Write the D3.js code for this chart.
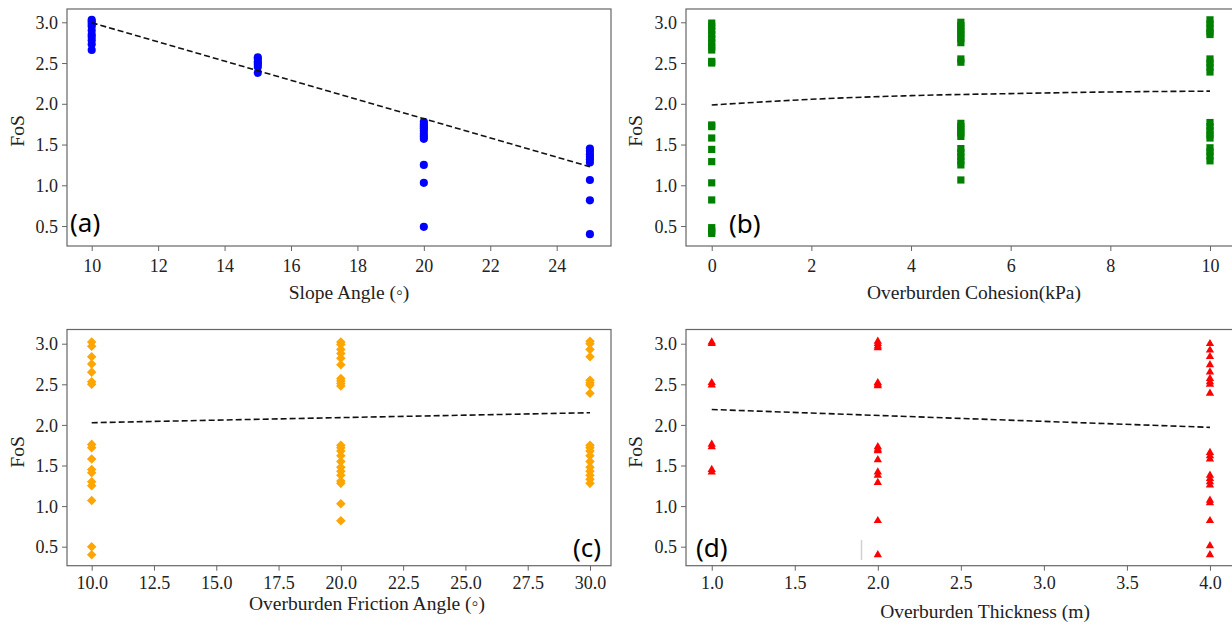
<!DOCTYPE html>
<html>
<head>
<meta charset="utf-8">
<script src="https://cdn.jsdelivr.net/npm/d3@7.9.0/dist/d3.min.js"></script>
<style>
  body { margin: 0; background: #fff; }
  svg { display: block; }
  .tick text { font-family: "Liberation Serif", serif; font-size: 18px; fill: #222; }
  .tick line { stroke: #666; }
  .axis-label { font-family: "Liberation Serif", serif; font-size: 19.5px; fill: #222; }
  .panel-tag { font-family: "Noto Sans", sans-serif; font-size: 26px; fill: #000; }
</style>
</head>
<body>
<svg id="chart" width="1232" height="626"></svg>
<script>
// (a) slope angle
const slopeAngle = [10, 15, 20, 25];
const fosBySlope = [
  [3.03, 3.01, 2.98, 2.95, 2.9, 2.85, 2.82, 2.78, 2.73, 2.66],
  [2.57, 2.55, 2.52, 2.5, 2.48, 2.45, 2.38],
  [1.78, 1.75, 1.72, 1.7, 1.67, 1.63, 1.6, 1.57, 1.25, 1.03, 0.49],
  [1.45, 1.42, 1.38, 1.35, 1.32, 1.28, 1.065, 0.815, 0.40]
];
const trendSlopeX = [10, 25];
const trendSlopeY = [2.995, 1.228];

// (b) overburden cohesion
const cohesion = [0, 5, 10];
const fosByCohesion = [
  [2.99, 2.95, 2.9, 2.85, 2.8, 2.75, 2.7, 2.66, 2.52, 2.5, 1.74, 1.72, 1.58, 1.44, 1.29, 1.03, 0.82, 0.48, 0.44, 0.41],
  [3.0, 2.96, 2.92, 2.88, 2.84, 2.8, 2.75, 2.55, 2.51, 1.76, 1.72, 1.68, 1.64, 1.6, 1.45, 1.4, 1.35, 1.3, 1.25, 1.065],
  [3.03, 2.98, 2.93, 2.88, 2.85, 2.55, 2.5, 2.45, 2.39, 1.77, 1.72, 1.67, 1.62, 1.58, 1.46, 1.41, 1.36, 1.3]
];
const trendCohX = [0, 2, 4, 6, 8, 10];
const trendCohY = [1.985, 2.055, 2.10, 2.125, 2.145, 2.155];

// (c) overburden friction angle
const friction = [10, 20, 30];
const fosByFriction = [
  [3.02, 2.97, 2.84, 2.75, 2.65, 2.53, 2.5, 1.76, 1.72, 1.58, 1.45, 1.41, 1.3, 1.25, 1.07, 0.5, 0.4],
  [3.02, 2.99, 2.93, 2.88, 2.82, 2.74, 2.57, 2.54, 2.51, 2.48, 1.75, 1.72, 1.68, 1.62, 1.55, 1.48, 1.43, 1.38, 1.31, 1.28, 1.03, 0.82],
  [3.03, 3.0, 2.93, 2.84, 2.55, 2.52, 2.49, 2.39, 1.75, 1.72, 1.68, 1.62, 1.55, 1.48, 1.43, 1.38, 1.33, 1.28]
];
const trendFricX = [10, 20, 30];
const trendFricY = [2.027, 2.09, 2.15];

// (d) overburden thickness
const thickness = [1, 2, 4];
const fosByThickness = [
  [3.02, 3.0, 2.52, 2.49, 1.76, 1.73, 1.45, 1.42],
  [3.03, 3.0, 2.97, 2.95, 2.52, 2.5, 2.48, 1.73, 1.7, 1.68, 1.57, 1.42, 1.38, 1.29, 0.82, 0.4],
  [3.0, 2.92, 2.84, 2.74, 2.65, 2.57, 2.53, 2.5, 2.39, 1.66, 1.62, 1.58, 1.38, 1.34, 1.3, 1.26, 1.07, 1.04, 0.82, 0.51, 0.40]
];
const trendThickX = [1, 4];
const trendThickY = [2.19, 1.97];

const fosTicks = [0.5, 1.0, 1.5, 2.0, 2.5, 3.0];

const svg = d3.select('#chart');

const diamond = d3.symbolDiamond2 || d3.symbolDiamond;

const panels = [
  { xs: slopeAngle, ys: fosBySlope, tx: trendSlopeX, ty: trendSlopeY,
    xDom: [9.256, 25.635], xRange: [67, 611], yDom: [0.255, 3.163], yRange: [246, 9],
    ticks: [10, 12, 14, 16, 18, 20, 22, 24], fmt: d3.format('d'), pad: 8,
    color: '#0000ff', symbol: d3.symbolCircle, size: 52,
    label: 'Slope Angle (\u25E6)', labelX: 349, labelY: 299,
    fosX: 17, fosY: 131, tag: '(a)', tagX: 70, tagY: 232 },
  { xs: cohesion, ys: fosByCohesion, tx: trendCohX, ty: trendCohY, curve: d3.curveMonotoneX,
    xDom: [-0.516, 10.516], xRange: [686, 1235.7], yDom: [0.255, 3.163], yRange: [246, 9],
    ticks: [0, 2, 4, 6, 8, 10], fmt: d3.format('d'), pad: 8,
    color: '#008000', symbol: d3.symbolSquare, size: 52,
    label: 'Overburden Cohesion(kPa)', labelX: 974, labelY: 299,
    fosX: 635, fosY: 131, tag: '(b)', tagX: 729, tagY: 233 },
  { xs: friction, ys: fosByFriction, tx: trendFricX, ty: trendFricY,
    xDom: [9.009, 30.843], xRange: [67, 611], yDom: [0.266, 3.175], yRange: [565.7, 329.5],
    ticks: [10, 12.5, 15, 17.5, 20, 22.5, 25, 27.5, 30], fmt: d3.format('.1f'), pad: 5.5,
    color: '#ffa500', symbol: diamond, size: 58,
    label: 'Overburden Friction Angle (\u25E6)', labelX: 367, labelY: 610,
    fosX: 17, fosY: 452, tag: '(c)', tagX: 573, tagY: 557 },
  { xs: thickness, ys: fosByThickness, tx: trendThickX, ty: trendThickY,
    xDom: [0.845, 4.155], xRange: [686, 1235.7], yDom: [0.266, 3.175], yRange: [565.7, 329.5],
    ticks: [1.0, 1.5, 2.0, 2.5, 3.0, 3.5, 4.0], fmt: d3.format('.1f'), pad: 5.5,
    color: '#ff0000', symbol: d3.symbolTriangle, size: 30,
    label: 'Overburden Thickness (m)', labelX: 985, labelY: 618,
    fosX: 635, fosY: 452, tag: '(d)', tagX: 696, tagY: 557 }
];

panels.forEach(p => {
  const x = d3.scaleLinear().domain(p.xDom).range(p.xRange);
  const y = d3.scaleLinear().domain(p.yDom).range(p.yRange);
  const g = svg.append('g');

  // points
  const pts = [];
  p.xs.forEach((xv, i) => p.ys[i].forEach(v => pts.push([xv, v])));
  g.selectAll('path.pt').data(pts).join('path')
    .attr('class', 'pt')
    .attr('d', d3.symbol().type(p.symbol).size(p.size))
    .attr('transform', d => `translate(${x(d[0])},${y(d[1])})`)
    .attr('fill', p.color);

  // trend line
  const line = d3.line().x(d => x(d[0])).y(d => y(d[1]));
  if (p.curve) line.curve(p.curve);
  g.append('path')
    .attr('d', line(p.tx.map((v, i) => [v, p.ty[i]])))
    .attr('fill', 'none')
    .attr('stroke', '#111')
    .attr('stroke-width', 1.6)
    .attr('stroke-dasharray', '6,3');

  // frame
  g.append('rect')
    .attr('x', p.xRange[0]).attr('y', p.yRange[1])
    .attr('width', p.xRange[1] - p.xRange[0]).attr('height', p.yRange[0] - p.yRange[1])
    .attr('fill', 'none').attr('stroke', '#666').attr('stroke-width', 1.2);

  // axes
  const ax = g.append('g').attr('transform', `translate(0,${p.yRange[0]})`)
    .call(d3.axisBottom(x).tickValues(p.ticks).tickFormat(p.fmt).tickSize(5).tickPadding(p.pad));
  ax.select('.domain').remove();
  const ay = g.append('g').attr('transform', `translate(${p.xRange[0]},0)`)
    .call(d3.axisLeft(y).tickValues(fosTicks).tickFormat(d3.format('.1f')).tickSize(5).tickPadding(4));
  ay.select('.domain').remove();
  ay.selectAll('.tick text').attr('dy', '0.34em');

  // labels
  g.append('text').attr('class', 'axis-label')
    .attr('x', p.labelX).attr('y', p.labelY).attr('text-anchor', 'middle')
    .text(p.label);
  g.append('text').attr('class', 'axis-label')
    .attr('transform', `translate(${p.fosX},${p.fosY}) rotate(-90)`)
    .attr('text-anchor', 'middle').attr('dy', '0.35em')
    .text('FoS');
  g.append('text').attr('class', 'panel-tag')
    .attr('x', p.tagX).attr('y', p.tagY)
    .text(p.tag);
});

// faint grey stroke visible in panel (d)
svg.append('line')
  .attr('x1', 861.5).attr('x2', 861.5).attr('y1', 540).attr('y2', 560)
  .attr('stroke', '#d0d0d0').attr('stroke-width', 1.5);
</script>
</body>
</html>
